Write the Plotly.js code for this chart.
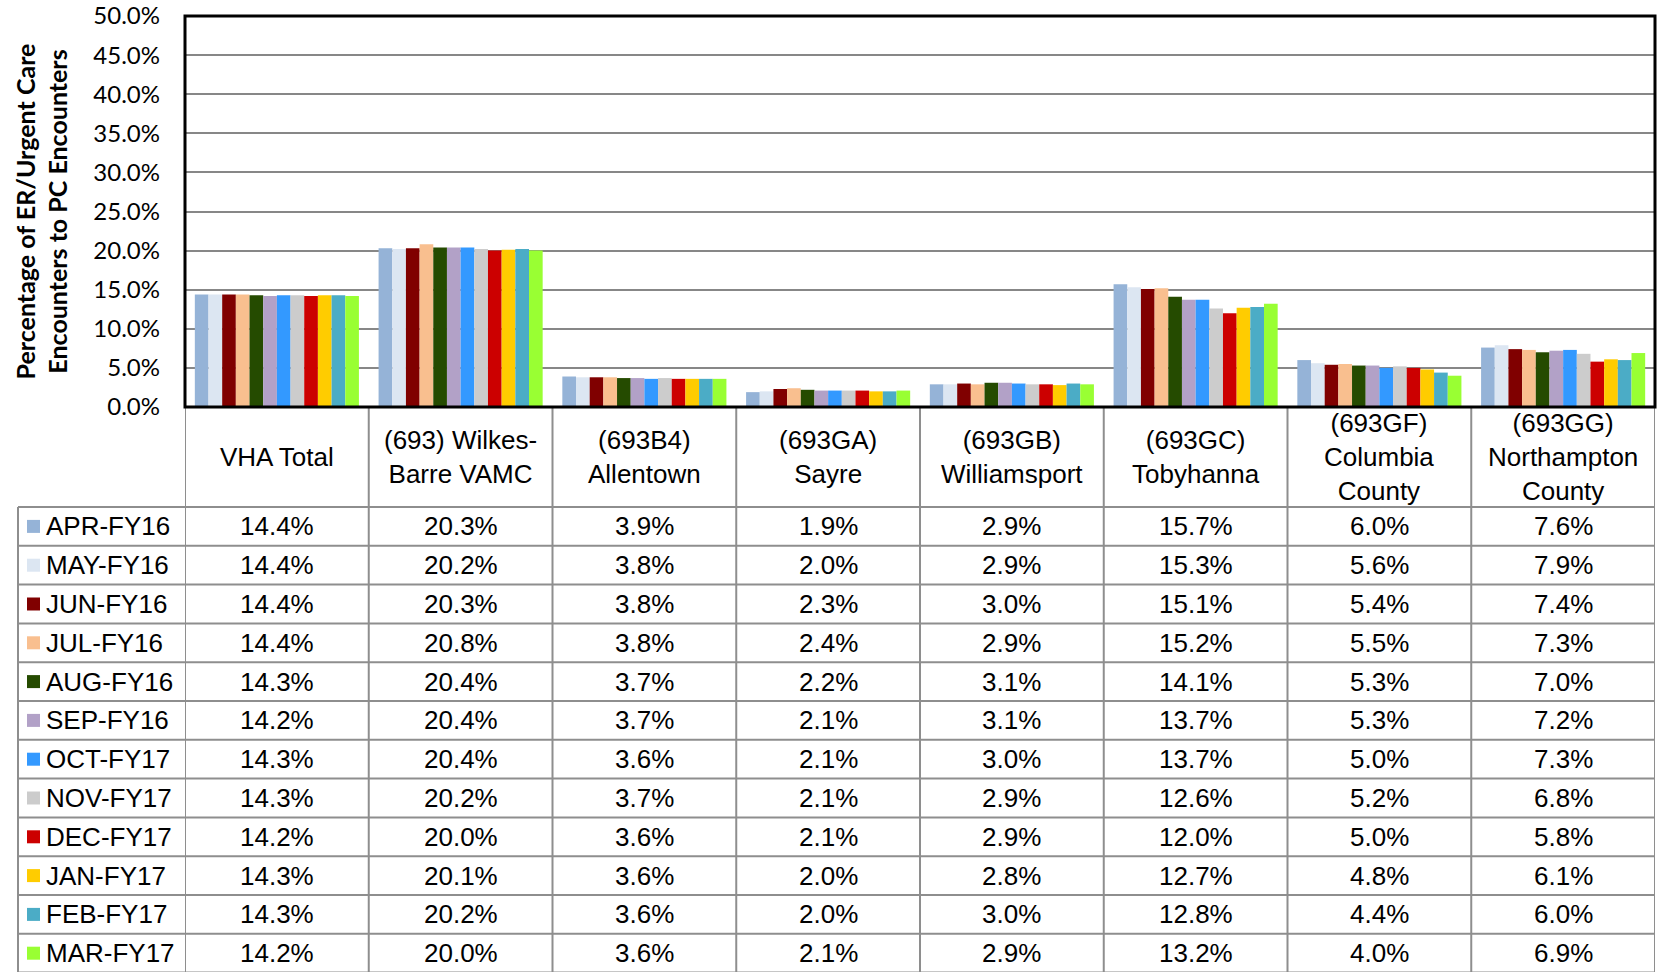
<!DOCTYPE html>
<html><head><meta charset="utf-8">
<script src="https://cdn.plot.ly/plotly-3.0.1.min.js"></script>
<style>html,body{margin:0;padding:0;background:#fff}#chart{width:1657px;height:972px}</style>
</head><body><div id="chart"></div>
<script>
const sites = ['VHA Total','(693) Wilkes-<br>Barre VAMC','(693B4)<br>Allentown','(693GA)<br>Sayre','(693GB)<br>Williamsport','(693GC)<br>Tobyhanna','(693GF)<br>Columbia<br>County','(693GG)<br>Northampton<br>County'];
const months = ['APR-FY16','MAY-FY16','JUN-FY16','JUL-FY16','AUG-FY16','SEP-FY16','OCT-FY17','NOV-FY17','DEC-FY17','JAN-FY17','FEB-FY17','MAR-FY17'];
const colors = ['#95B3D7','#DCE6F2','#800000','#F9BF8F','#254B00','#B2A1C7','#3399FF','#CCCCCC','#CC0000','#FFCC00','#4BACC6','#99FF33'];
const yTickVals = [0,5,10,15,20,25,30,35,40,45,50];

const aprFY16 = [14.4,20.3,3.9,1.9,2.9,15.7,6.0,7.6];
const mayFY16 = [14.4,20.2,3.8,2.0,2.9,15.3,5.6,7.9];
const junFY16 = [14.4,20.3,3.8,2.3,3.0,15.1,5.4,7.4];
const julFY16 = [14.4,20.8,3.8,2.4,2.9,15.2,5.5,7.3];
const augFY16 = [14.3,20.4,3.7,2.2,3.1,14.1,5.3,7.0];
const sepFY16 = [14.2,20.4,3.7,2.1,3.1,13.7,5.3,7.2];
const octFY17 = [14.3,20.4,3.6,2.1,3.0,13.7,5.0,7.3];
const novFY17 = [14.3,20.2,3.7,2.1,2.9,12.6,5.2,6.8];
const decFY17 = [14.2,20.0,3.6,2.1,2.9,12.0,5.0,5.8];
const janFY17 = [14.3,20.1,3.6,2.0,2.8,12.7,4.8,6.1];
const febFY17 = [14.3,20.2,3.6,2.0,3.0,12.8,4.4,6.0];
const marFY17 = [14.2,20.0,3.6,2.1,2.9,13.2,4.0,6.9];

const series = [aprFY16,mayFY16,junFY16,julFY16,augFY16,sepFY16,octFY17,novFY17,decFY17,janFY17,febFY17,marFY17];

// geometry (pixels)
const W = 1657, H = 972;
const L = 185, R = 2, T = 16, B = 565;
const plotW = W - L - R, plotH = H - T - B;
const axisY = H - B;          // 407
const headerBottom = 507;
const rowH = 38.8;
const legendLeft = 18;
const py = p => (axisY - p) / plotH;
const px = p => (p - L) / plotW;

const tableFont = {family:'Liberation Sans, Arial, sans-serif', size:26, color:'#000'};
const lineCol = '#8E8E8E';

const traces = series.map((vals, i) => ({
  type:'bar', name: months[i], x: sites, y: vals,
  marker:{color: colors[i], line:{width:0}},
  hoverinfo:'name+y'
}));

const shapes = [];
const annotations = [];

// vertical table lines on category boundaries
for (let i = 0; i <= sites.length; i++) {
  shapes.push({type:'line', xref:'x', yref:'paper', x0:i-0.5, x1:i-0.5, y0:0, y1:py(H+5), line:{color:lineCol, width:2}});
}
// legend column left line
shapes.push({type:'line', xref:'paper', yref:'paper', x0:px(legendLeft), x1:px(legendLeft), y0:py(headerBottom), y1:py(H+5), line:{color:lineCol, width:2}});
// horizontal row lines
for (let r = 0; r <= months.length; r++) {
  const yy = headerBottom + rowH*r;
  shapes.push({type:'line', xref:'paper', yref:'paper', x0:px(legendLeft), x1:1, y0:py(yy), y1:py(yy), line:{color:lineCol, width:2}});
}
// header labels
sites.forEach((s, i) => {
  annotations.push({xref:'x', yref:'paper', x:i, y:py(457), text:s, showarrow:false, xanchor:'center', yanchor:'middle', font:tableFont});
});
// rows: legend key + values
months.forEach((m, r) => {
  const cy = headerBottom + rowH*(r+0.5);
  shapes.push({type:'rect', xref:'paper', yref:'paper', x0:px(27), x1:px(40), y0:py(cy-6.5), y1:py(cy+6.5), fillcolor:colors[r], line:{width:0}});
  annotations.push({xref:'paper', yref:'paper', x:px(44), y:py(cy), text:m, showarrow:false, xanchor:'left', yanchor:'middle', font:tableFont});
  series[r].forEach((v, i) => {
    annotations.push({xref:'x', yref:'paper', x:i, y:py(cy), text:v.toFixed(1)+'%', showarrow:false, xanchor:'center', yanchor:'middle', font:tableFont});
  });
});
// plot frame
shapes.push({type:'rect', xref:'paper', yref:'paper', x0:0, x1:1, y0:0, y1:1, line:{color:'#000', width:3}, layer:'above'});

const layout = {
  width: W, height: H,
  margin:{l:L, r:R, t:T, b:B, pad:0},
  paper_bgcolor:'#fff', plot_bgcolor:'#fff',
  barmode:'group', bargap:0.107, bargroupgap:0,
  showlegend:false,
  xaxis:{type:'category', range:[-0.5, sites.length-0.5], showticklabels:false, ticks:'', showgrid:false, zeroline:false, showline:false, fixedrange:true},
  yaxis:{range:[0,50], tickvals:yTickVals, ticktext:yTickVals.map(v=>v.toFixed(1)+'%'),
    showgrid:true, gridcolor:'#878787', gridwidth:2, zeroline:false, showline:false, ticks:'',
    ticklabelstandoff:24,
    tickfont:{family:'Lato, Carlito, Calibri, sans-serif', size:24, color:'#000'},
    title:{text:'<b>Percentage of ER/Urgent Care<br>Encounters to PC Encounters</b>', font:{family:'Lato, Carlito, Calibri, sans-serif', size:25, color:'#000'}, standoff:18},
    automargin:false, fixedrange:true},
  shapes, annotations
};

Plotly.newPlot('chart', traces, layout, {displayModeBar:false, staticPlot:true});
</script>
</body></html>
